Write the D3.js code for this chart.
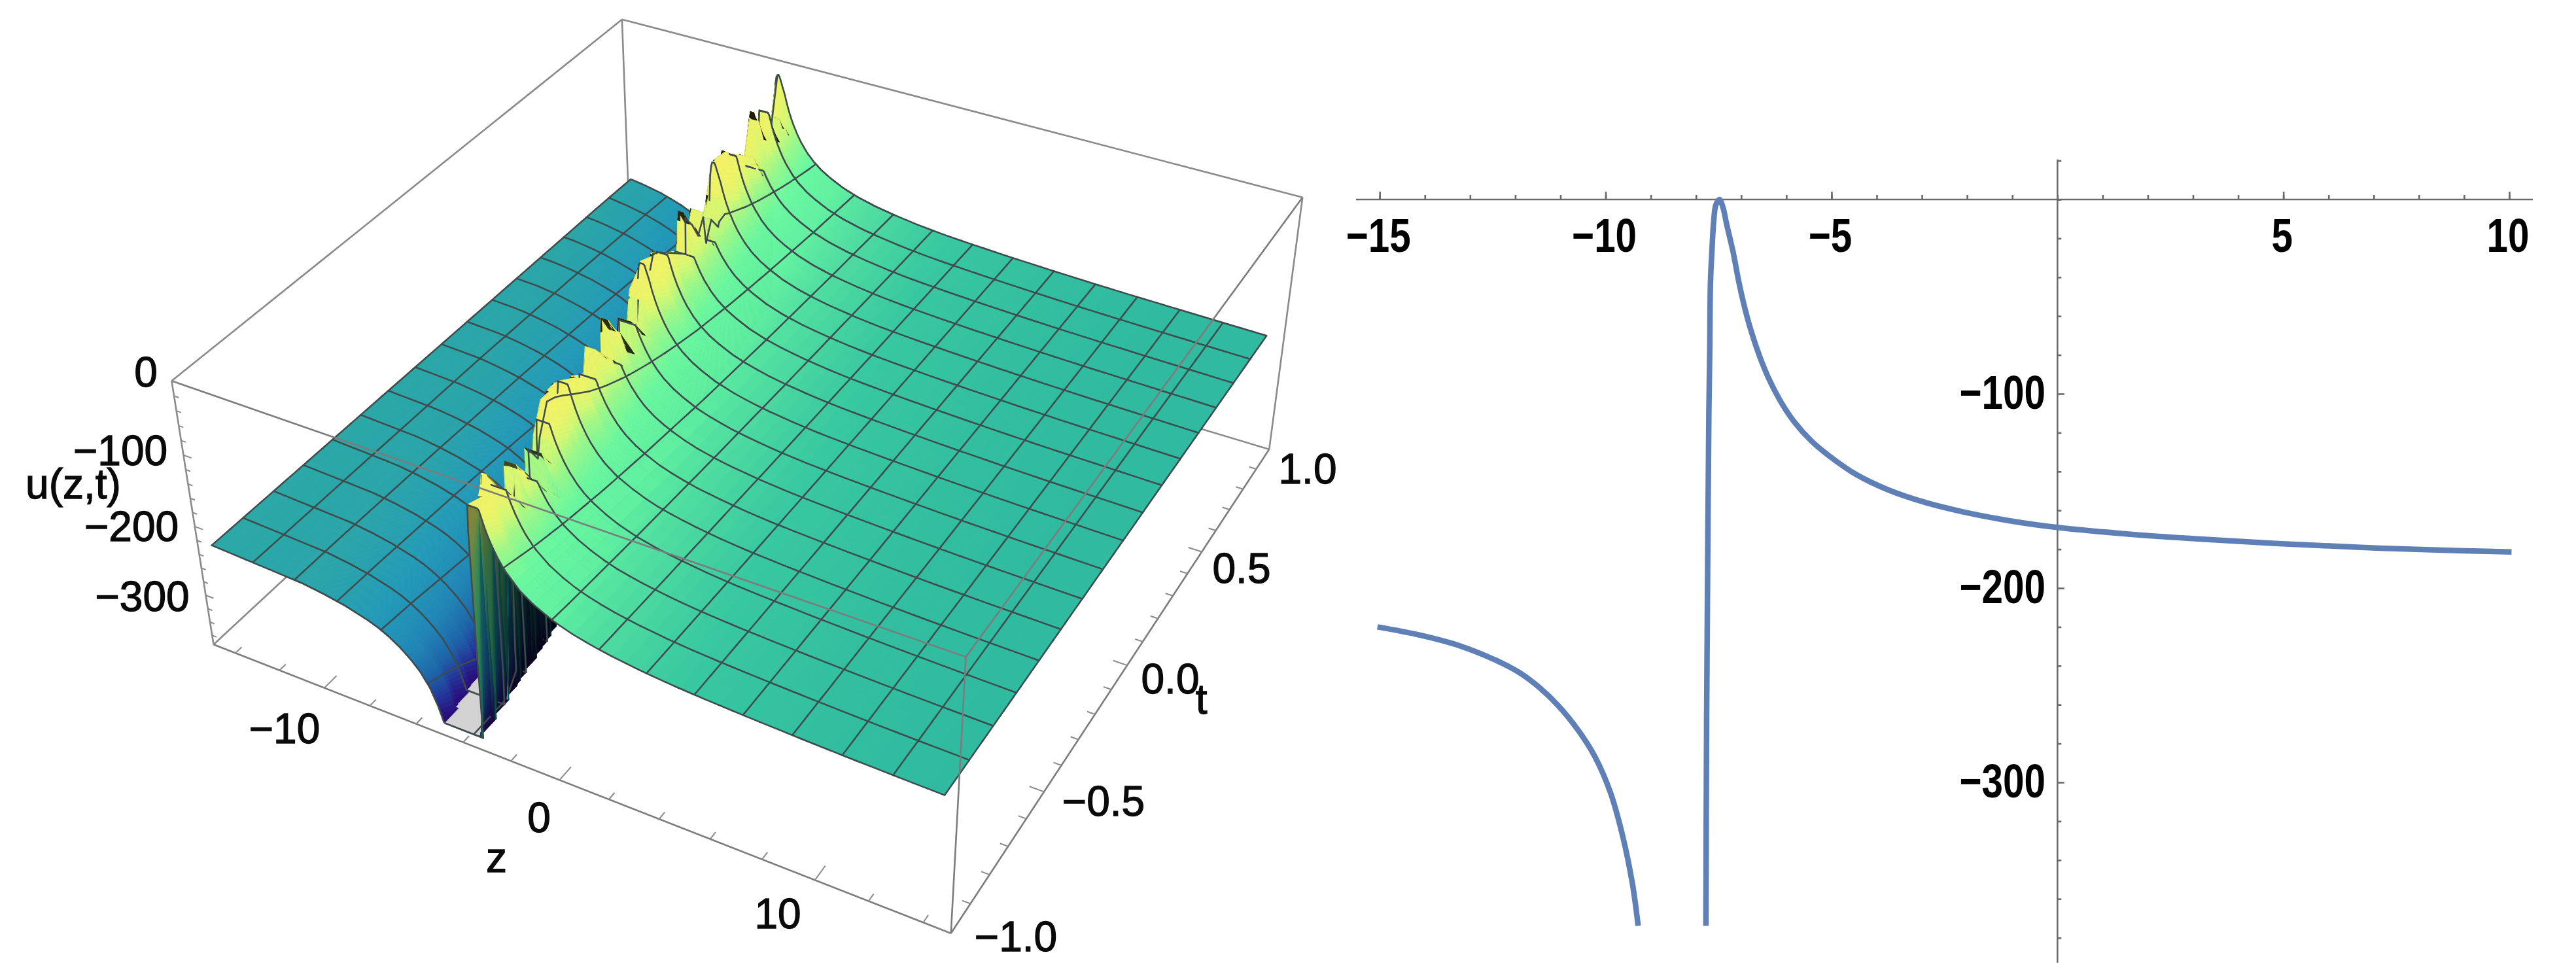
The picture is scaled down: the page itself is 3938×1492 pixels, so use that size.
<!DOCTYPE html>
<html><head><meta charset="utf-8">
<script src="https://cdn.jsdelivr.net/npm/d3@7/dist/d3.min.js"></script>
<style>html,body{margin:0;padding:0;background:#fff;overflow:hidden}svg{display:block}</style>
</head><body><svg id="c" width="3938" height="1492" xmlns="http://www.w3.org/2000/svg"></svg>
<script>
// ---------- data ----------
const leftBranchZ  = [-15.05,-14.11,-13.23,-12.35,-11.91,-11.47,-11.04,-10.60,-10.25,-9.90,-9.63,-9.41,-9.28];
const leftBranchU  = [-220,-224.2,-229.7,-238,-243.5,-251.1,-260.7,-273.4,-286.2,-304.8,-326.9,-351.7,-373.8];
const rightBranchZ = [-7.78,-7.765,-7.74,-7.715,-7.695,-7.68,-7.647,-7.61,-7.56,-7.48,-7.405,-7.32,-7.246,-7.174,-7.054,-6.933,-6.788,-6.595,-6.402,-6.112,-5.823,-5.436,-5.05,-4.45,-3.75,-2.96,-2.10,-1.07,0,1.36,3.09,4.82,6.55,8.28,10.05];
const rightBranchU = [-373.8,-268,-183,-110,-77,-43,-26.4,-11.8,-2.8,0,-3.9,-12.9,-20.2,-27.5,-42.1,-54.6,-67,-80.5,-91.5,-104.5,-114.5,-124.5,-132,-141.6,-149.4,-155.7,-160.7,-165.3,-168.8,-171.8,-174.7,-177,-178.9,-180.3,-181.4];
const outerLeftZ = [-19,-17], outerLeftU = [-214,-217];
const outerRightZ = [12,15], outerRightU = [-182.5,-184];
// crest height of the sharp ridge along the surface (sampling spikes seen in the 3D plot)
const ridgeT = [-1,-.94,-.927,-.806,-.804,-.694,-.692,-.655,-.642,-.603,-.534,-.418,-.35,-.338,-.241,-.239,-.14,-.136,-.08,-.058,.002,.10,.263,.266,.33,.358,.371,.40,.436,.474,.50,.578,.616,.724,.746,.793,.832,.875,.91,.93,.96,1];
const ridgeU = [-24,-32,-6,-85,-31,-104,-51,-75,-50,-14,-14,-40,-57,-24,-71,-15,-87,-45,-78,-28,-7,-21,-66,-9,-57,-31,-78,-52,-71,-42,-2,-6,-20,-50,-78,-4,-51,-23,-72,-44,-73,0];
const surfaceColorU = [-350,-325,-300,-270,-240,-220,-180,-170,-160,-140,-110,-80,-60,-40,0];
const surfaceColors = ['#2a0a78','#243398','#1d62a8','#2085b5','#229ab8','#2aa5a8','#30bca0','#38c8a0','#4ad8a0','#60f0a0','#6cf8a0','#a0f888','#d4f874','#ecf468','#f5f068'];
const zTicks3D = [-14,-12,-10,-8,-6,-4,-2,0,2,4,6,8,10,12,14];
const tTicks3D = [-1,-.9,-.8,-.7,-.6,-.5,-.4,-.3,-.2,-.1,0,.1,.2,.3,.4,.5,.6,.7,.8,.9,1];
const uTicks3D = [0,-20,-40,-60,-80,-100,-120,-140,-160,-180,-200,-220,-240,-260,-280,-300,-320,-340,-360];
const xMinor2D = d3.range(-15,11);
const xMajor2D = [-15,-10,-5,5,10];
const yMinor2D = [20,0,-20,-40,-60,-80,-120,-140,-160,-180,-220,-240,-260,-280,-320,-340,-360,-380];
const yMajor2D = [-100,-200,-300];

// ---------- layout ----------
const svg = d3.select('#c');
const FONT = '"Liberation Sans",Arial,sans-serif';
const Z_RANGE=[-15,15], T_RANGE=[-1,1], U_RANGE=[-374,0];
const U_CLIP=-350;
const surf = {zMin:-14.2,zMax:14.6,tMin:-1.01,tMax:.93,c:2.2,t0:1.166};
const boxPix = [[0,0,1,263,582],[0,1,1,948,32],[1,1,1,1993,301],[1,0,1,1477.6,1002],[0,0,0,326,987],[1,0,0,1452.7,1427],[1,1,0,1938.6,689],[0,1,0,967,390]];
function solve(A,B){const n=B.length;const M=A.map((r,i)=>[...r,B[i]]);
  for(let i=0;i<n;i++){let p=i;for(let k=i+1;k<n;k++)if(Math.abs(M[k][i])>Math.abs(M[p][i]))p=k;[M[i],M[p]]=[M[p],M[i]];
    for(let k=0;k<n;k++){if(k===i)continue;const f=M[k][i]/M[i][i];for(let j=i;j<=n;j++)M[k][j]-=f*M[i][j];}}
  return M.map((r,i)=>r[n]/r[i]);}
const rows=[],rhs=[];
boxPix.forEach(([a,b,c,X,Y])=>{X/=1000;Y/=1000;
  rows.push([a,b,c,1,0,0,0,0,-X*a,-X*b,-X*c]);rhs.push(X);
  rows.push([0,0,0,0,a,b,c,1,-Y*a,-Y*b,-Y*c]);rhs.push(Y);});
const ATA=d3.range(11).map(i=>d3.range(11).map(j=>d3.sum(rows,r=>r[i]*r[j])));
const ATb=d3.range(11).map(i=>d3.sum(rows,(r,k)=>r[i]*rhs[k]));
const h=solve(ATA,ATb);
const zN=d3.scaleLinear().domain(Z_RANGE).range([0,1]);
const tN=d3.scaleLinear().domain(T_RANGE).range([0,1]);
const uN=d3.scaleLinear().domain(U_RANGE).range([0,1]);
function P(z,t,u){const a=zN(z),b=tN(t),c=uN(u),w=h[8]*a+h[9]*b+h[10]*c+1;
  return [1000*(h[0]*a+h[1]*b+h[2]*c+h[3])/w,1000*(h[4]*a+h[5]*b+h[6]*c+h[7])/w,w];}
const line3=d3.line();

// ---------- surface ----------
const profZ=[...outerLeftZ,...leftBranchZ,...rightBranchZ,...outerRightZ];
const profU=[...outerLeftU,...leftBranchU,...rightBranchU,...outerRightU];
const f=d3.scaleLinear().domain(profZ).range(profU).clamp(true);
const ridgeT2=d3.scaleLinear().domain(T_RANGE).range([surf.tMin,surf.tMax]);
const ridgeRows=ridgeT.map(ridgeT2);
const cap=d3.scaleLinear().domain(ridgeRows).range(ridgeU).clamp(true);
const U=(z,t)=>Math.max(U_CLIP,Math.min(f(z+surf.c*(t-surf.t0)),cap(t)));
const meshZ=d3.range(1,16).map(i=>surf.zMin+i*(surf.zMax-surf.zMin)/16);
const meshT=d3.range(1,16).map(i=>surf.tMin+i*(surf.tMax-surf.tMin)/16);
const uniq=a=>Array.from(new Set(a.map(v=>+v.toFixed(4)))).sort(d3.ascending);
const cols=uniq([...d3.range(surf.zMin,-11,.5),...d3.range(-11,-1.5,.05),...d3.range(-1.5,surf.zMax,.5),surf.zMax,...meshZ]);
const rowsT=uniq([...d3.range(surf.tMin,surf.tMax,.07),surf.tMax,...ridgeRows,...meshT]);
const meshZset=new Set(meshZ.map(v=>+v.toFixed(4))), meshTset=new Set(meshT.map(v=>+v.toFixed(4)));
const color=d3.scaleLinear().domain(surfaceColorU).range(surfaceColors).interpolate(d3.interpolateRgb).clamp(true);
const backShade=d3.scaleLinear().domain([surf.tMin,surf.tMin+.1,surf.tMin+.25,surf.tMax]).range([.6,.42,.2,.12]);
const grid=rowsT.map(t=>cols.map(z=>{const u=U(z,t);return {z,t,u,p:P(z,t,u)};}));
const area=q=>{let s=0;for(let i=0;i<q.length;i++){const a=q[i],b=q[(i+1)%q.length];s+=a[0]*b[1]-b[0]*a[1];}return s/2;};
const refSign=Math.sign(area([P(-5,-.5,-200),P(5,-.5,-200),P(5,.5,-200),P(-5,.5,-200)]));
const wAll=grid.flat().map(g=>g.p[2]);
const wBias=.03*(d3.max(wAll)-d3.min(wAll));
const items=[];
const mix=(p,q,k)=>[p[0]+(q[0]-p[0])*k,p[1]+(q[1]-p[1])*k];
for(let j=0;j<rowsT.length-1;j++)for(let i=0;i<cols.length-1;i++){
  const A=grid[j][i],B=grid[j][i+1],C=grid[j+1][i+1],D=grid[j+1][i];
  const q=[A.p,B.p,C.p,D.p];
  const depth=(A.p[2]+B.p[2]+C.p[2]+D.p[2])/4;
  const whole=area(q);
  const isBack=!(Math.sign(whole)===refSign||Math.abs(whole)<.01);
  const n=Math.max(1,Math.ceil(Math.max(Math.abs(A.u-B.u),Math.abs(D.u-C.u))/10));
  if(Math.max(A.u,B.u,C.u,D.u)<=U_CLIP+.01){
    items.push({d:line3(q.map(p=>[p[0],p[1]]))+'Z',fill:'#d2d2d2',depth,line:false});
  } else for(let k=0;k<n;k++){
    const k0=k/n,k1=(k+1)/n;
    const sub=[mix(A.p,B.p,k0),mix(A.p,B.p,k1),mix(D.p,C.p,k1),mix(D.p,C.p,k0)];
    const ua=((A.u+(B.u-A.u)*(k0+k1)/2)+(D.u+(C.u-D.u)*(k0+k1)/2))/2;
    let fill=color(ua);
    if(isBack){const c=d3.rgb(fill),s=backShade((A.t+D.t)/2);fill=d3.rgb(c.r*s,c.g*s,c.b*s).formatHex();}
    items.push({d:line3(sub)+'Z',fill,depth,line:false});
  }
  const edges=[];
  if(meshTset.has(A.t)||j===0)edges.push([A.p,B.p]);
  if(j===rowsT.length-2)edges.push([D.p,C.p]);
  if(meshZset.has(A.z)||i===0)edges.push([A.p,D.p]);
  if(i===cols.length-2)edges.push([B.p,C.p]);
  if(edges.length)items.push({d:edges.map(e=>line3(e.map(p=>[p[0],p[1]]))).join(''),depth:depth-wBias,line:true});
}
items.sort((a,b)=>b.depth-a.depth);

// ---------- box, back edges ----------
const gBack=svg.append('g').attr('fill','none').attr('stroke','#8a8a8a').attr('stroke-width',2.6);
const c3=(a,b,c)=>{const z=zN.invert(a),t=tN.invert(b),u=uN.invert(c);return P(z,t,u).slice(0,2);};
const edgeList=[[[0,0,1],[0,1,1]],[[0,1,1],[1,1,1]],[[0,1,1],[0,1,0]],[[0,0,0],[0,1,0]],[[1,1,0],[0,1,0]],[[1,1,1],[1,1,0]],[[0,0,1],[0,0,0]]];
gBack.selectAll('path').data(edgeList).join('path').attr('d',e=>line3(e.map(v=>c3(...v))));

// ---------- draw surface ----------
const meshColor='#3f4c4e';
svg.append('g').attr('stroke-linejoin','round').attr('stroke-linecap','round')
  .selectAll('path').data(items).join('path').attr('d',d=>d.d)
  .attr('fill',d=>d.line?'none':d.fill)
  .attr('stroke',d=>d.line?meshColor:d.fill)
  .attr('stroke-width',d=>d.line?2.5:1);

// ---------- box, front edges and ticks ----------
const gFront=svg.append('g').attr('fill','none').attr('stroke','#7c7c7c').attr('stroke-width',2.6);
const frontEdges=[[[0,0,1],[1,0,1]],[[1,0,1],[1,1,1]],[[1,0,1],[1,0,0]],[[0,0,0],[1,0,0]],[[1,0,0],[1,1,0]]];
gFront.selectAll('path').data(frontEdges).join('path').attr('d',e=>line3(e.map(v=>c3(...v))));
const gTick=svg.append('g').attr('fill','none').attr('stroke','#8a8a8a').attr('stroke-width',2);
const pp=(z,t,u)=>P(z,t,u).slice(0,2);
gTick.selectAll('.z').data(zTicks3D).join('path').attr('d',z=>line3([pp(z,-1,-374),pp(z,-1+(z%10===0?.05:.025),-374)]));
gTick.selectAll('.t').data(tTicks3D).join('path').attr('d',t=>line3([pp(15,t,-374),pp(15-(Math.abs(t*2)%1<1e-6?.55:.3),t,-374)]));
gTick.selectAll('.u').data(uTicks3D).join('path').attr('d',u=>line3([pp(-15,-1,u),pp(-15+(u%100===0?.35:.2),-1,u)]));

// ---------- 3D labels ----------
const labels3D=[['0',223,569],['\u2212100',184,689],['\u2212200',201,805],['\u2212300',217.5,912],['u(z,t)',112,740],
  ['\u221210',435,1114],['0',824,1249.5],['10',1189,1397],['z',759,1311],
  ['1.0',1999,717],['0.5',1898,869],['0.0',1789,1038],['\u22120.5',1687,1225],['\u22121.0',1553,1432],['t',1836.6,1069]];
svg.append('g').attr('font-family',FONT).attr('font-size',64).attr('fill','#0a0a0a').attr('stroke','#0a0a0a').attr('stroke-width',1.3)
  .attr('text-anchor','middle').attr('dominant-baseline','central')
  .selectAll('text').data(labels3D).join('text').attr('x',d=>d[1]).attr('y',d=>d[2]).text(d=>d[0]);

// ---------- 2D plot ----------
const x=d3.scaleLinear().domain([-15,10]).range([2109.2,3836]);
const y=d3.scaleLinear().domain([0,-100]).range([305,602]);
const axisColor='#6a6a6a';
const styleAxis=g=>{g.selectAll('text').remove();g.selectAll('path,line').attr('stroke',axisColor).attr('stroke-width',2.6);g.select('.domain').remove();};
svg.append('g').attr('transform','translate(0,305)').call(d3.axisTop(x).tickValues(xMinor2D).tickSize(7)).call(styleAxis);
svg.append('g').attr('transform','translate(0,305)').call(d3.axisTop(x).tickValues(xMajor2D).tickSize(12)).call(styleAxis);
svg.append('g').attr('transform','translate(3145.3,0)').call(d3.axisRight(y).tickValues(yMinor2D).tickSize(6)).call(styleAxis);
svg.append('g').attr('transform','translate(3145.3,0)').call(d3.axisRight(y).tickValues(yMajor2D).tickSize(10.5)).call(styleAxis);
svg.append('line').attr('x1',2073).attr('x2',3872).attr('y1',305).attr('y2',305).attr('stroke',axisColor).attr('stroke-width',2.6);
svg.append('line').attr('x1',3145.3).attr('x2',3145.3).attr('y1',243.7).attr('y2',1471.7).attr('stroke',axisColor).attr('stroke-width',2.6);
const curve=d3.line().x(d=>x(d[0])).y(d=>y(d[1])).curve(d3.curveCatmullRom.alpha(.5));
const gC=svg.append('g').attr('fill','none').attr('stroke','#5e80b6').attr('stroke-width',8.5).attr('stroke-linejoin','round');
gC.append('path').attr('d',curve(d3.zip(leftBranchZ,leftBranchU)));
gC.append('path').attr('d',curve(d3.zip(rightBranchZ,rightBranchU)));
const lab2=svg.append('g').attr('font-family',FONT).attr('font-size',73).attr('font-weight','bold').attr('fill','#000');
lab2.selectAll('.xl').data(xMajor2D).join('text').attr('text-anchor','middle').attr('dominant-baseline','central')
  .attr('transform',d=>`translate(${x(d)-2},360) scale(.8,1)`).text(d=>(d<0?'\u2212':'')+Math.abs(d));
lab2.selectAll('.yl').data(yMajor2D).join('text').attr('text-anchor','end').attr('dominant-baseline','central')
  .attr('transform',d=>`translate(3127,${y(d)-2}) scale(.8,1)`).text(d=>'\u2212'+Math.abs(d));
</script></body></html>
